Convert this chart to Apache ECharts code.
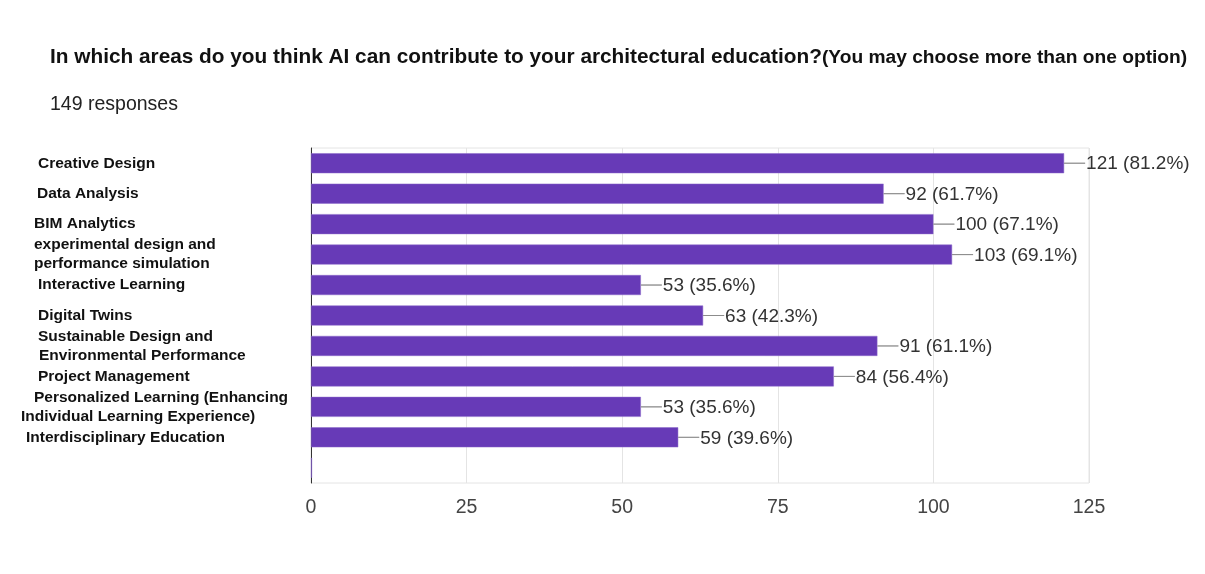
<!DOCTYPE html>
<html>
<head>
<meta charset="utf-8">
<script src="https://cdn.jsdelivr.net/npm/echarts@6/dist/echarts.min.js"></script>
<style>
  html, body { margin: 0; padding: 0; background: #fff; }
  #chart { width: 1205px; height: 574px; }
</style>
</head>
<body>
<div id="chart"></div>
<script>
// Survey answers: one bar per option (last row is an empty option)
const totalResponses = 149;
const categories = [
  'Creative Design',
  'Data Analysis',
  'BIM Analytics',
  'experimental design and\nperformance simulation',
  'Interactive Learning',
  'Digital Twins',
  'Sustainable Design and\nEnvironmental Performance',
  'Project Management',
  'Personalized Learning (Enhancing\nIndividual Learning Experience)',
  'Interdisciplinary Education',
  ''
];
const counts = [121, 92, 100, 103, 53, 63, 91, 84, 53, 59, 0];
const xTicks = [0, 25, 50, 75, 100, 125];

// left indent (px) of each category label, line by line
const labelIndent = [[18], [17], [14], [14, 14], [18], [18], [18, 19], [18], [14, 1], [6], [0]];

const chart = echarts.init(document.getElementById('chart'));

const FONT = 'Liberation Sans, Arial, sans-serif';
const rich = {};
for (let i = 0; i <= 20; i++) {
  rich['i' + i] = {
    padding: [0, 0, 0, i],
    fontFamily: FONT,
    fontWeight: 'bold',
    fontSize: 15.5,
    color: '#111',
    lineHeight: 19
  };
}

chart.setOption({
  animation: false,
  title: {
    text: '{a|In which areas do you think AI can contribute to your architectural education?}{b|(You may choose more than one option)}',
    subtext: totalResponses + ' responses',
    left: 50,
    top: 47,
    padding: 0,
    itemGap: 27,
    textStyle: {
      rich: {
        a: { fontFamily: FONT, fontWeight: 'bold', fontSize: 20.8, color: '#111' },
        b: { fontFamily: FONT, fontWeight: 'bold', fontSize: 19.2, color: '#111' }
      }
    },
    subtextStyle: {
      fontFamily: FONT,
      fontSize: 19.5,
      color: '#222'
    }
  },
  grid: {
    left: 311,
    right: 116,
    top: 148,
    bottom: 91,
    show: true,
    borderColor: '#e4e4e4',
    borderWidth: 1
  },
  xAxis: {
    type: 'value',
    min: xTicks[0],
    max: xTicks[xTicks.length - 1],
    interval: xTicks[1] - xTicks[0],
    axisLine: { show: false },
    axisTick: { show: false },
    splitLine: { lineStyle: { color: '#e4e4e4' } },
    axisLabel: {
      margin: 15,
      fontFamily: FONT,
      fontSize: 19.5,
      color: '#444'
    }
  },
  yAxis: {
    type: 'category',
    inverse: true,
    data: categories,
    axisLine: { show: true, lineStyle: { color: '#333', width: 1 } },
    axisTick: { show: false },
    axisLabel: {
      align: 'left',
      margin: 291,
      rich: rich,
      formatter: function (value, idx) {
        const ind = labelIndent[idx] || [0];
        return value.split('\n').map(function (line, k) {
          const p = ind[Math.min(k, ind.length - 1)];
          return '{i' + p + '|' + line + '}';
        }).join('\n');
      }
    }
  },
  series: [{
    type: 'bar',
    data: counts,
    barWidth: 20,
    barMinHeight: 1,
    itemStyle: { color: '#673ab7', borderColor: '#8a68c9', borderWidth: 0.5 },
    label: {
      show: true,
      position: 'right',
      distance: 0,
      formatter: function (p) {
        if (!categories[p.dataIndex]) return '';
        const pct = (p.value / totalResponses * 100).toFixed(1);
        return '{ln|}{t|' + p.value + ' (' + pct + '%)}';
      },
      rich: {
        ln: { width: 21, height: 0, borderColor: '#888', borderWidth: 0.8, verticalAlign: 'middle' },
        t: { fontFamily: FONT, fontSize: 19, color: '#333', padding: [2, 0, 0, 1] }
      }
    }
  }]
});
</script>
</body>
</html>
